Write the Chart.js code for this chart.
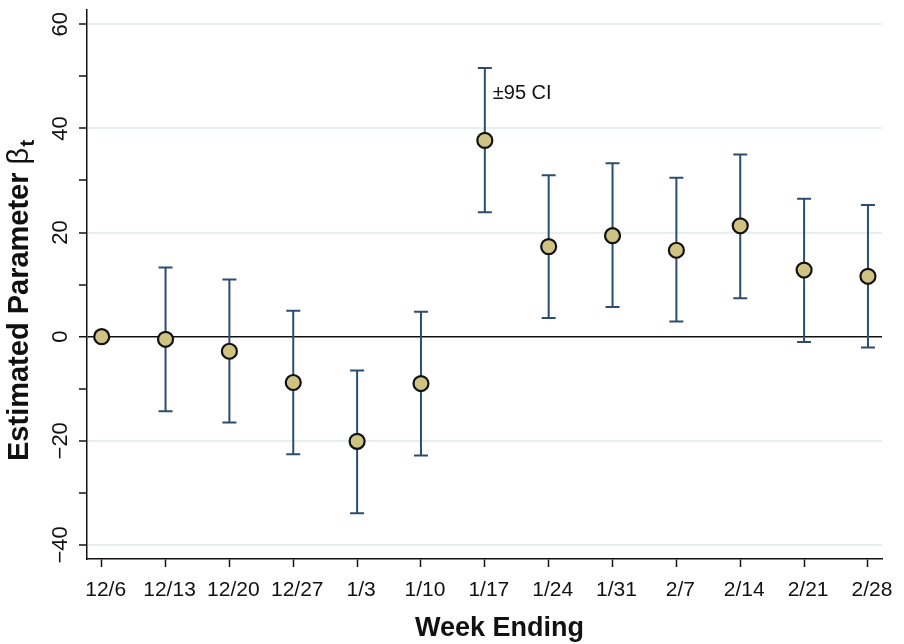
<!DOCTYPE html>
<html>
<head>
<meta charset="utf-8">
<script src="https://cdn.jsdelivr.net/npm/chart.js@4/dist/chart.umd.min.js"></script>
<style>
  html, body { margin: 0; padding: 0; background: #fff; }
  canvas { display: block; }
</style>
</head>
<body>
<canvas id="coefChart" width="904" height="644"></canvas>
<script>
// Data
const weeks = ['12/6', '12/13', '12/20', '12/27', '1/3', '1/10', '1/17', '1/24', '1/31', '2/7', '2/14', '2/21', '2/28'];
const beta = [0, -0.5, -2.8, -8.8, -20.1, -9.0, 37.7, 17.3, 19.4, 16.6, 21.3, 12.8, 11.6];
const ciLower = [null, -14.3, -16.5, -22.6, -33.9, -22.8, 23.9, 3.6, 5.7, 2.9, 7.4, -1.0, -2.1];
const ciUpper = [null, 13.3, 11.0, 5.0, -6.5, 4.8, 51.6, 31.0, 33.3, 30.5, 35.0, 26.5, 25.3];
const yTicks = [-40, -30, -20, -10, 0, 10, 20, 30, 40, 50, 60];
const yLabelTicks = [-40, -20, 0, 20, 40, 60];

const FONT = '"Liberation Sans", Arial, Helvetica, sans-serif';
const BAR_COLOR = '#2c4d6e';

// Error bars (drawn under the points)
const errorBars = {
  id: 'errorBars',
  beforeDatasetsDraw(chart) {
    const { ctx, scales: { x, y } } = chart;
    ctx.save();
    ctx.strokeStyle = BAR_COLOR;
    ctx.lineWidth = 2;
    ciLower.forEach((lo, i) => {
      if (lo === null) return;
      const px = x.getPixelForValue(i);
      const y1 = y.getPixelForValue(lo);
      const y2 = y.getPixelForValue(ciUpper[i]);
      ctx.beginPath();
      ctx.moveTo(px, y1); ctx.lineTo(px, y2);
      ctx.moveTo(px - 7, y1); ctx.lineTo(px + 7, y1);
      ctx.moveTo(px - 7, y2); ctx.lineTo(px + 7, y2);
      ctx.stroke();
    });
    ctx.restore();
  }
};

// Rotated y tick labels, axis titles and the CI note
const labels = {
  id: 'labels',
  afterDraw(chart) {
    const { ctx, chartArea, scales: { x, y } } = chart;
    ctx.save();
    ctx.fillStyle = '#111';

    // y tick labels, reading bottom to top
    ctx.font = `22px ${FONT}`;
    ctx.textAlign = 'center';
    ctx.textBaseline = 'alphabetic';
    yLabelTicks.forEach(v => {
      ctx.save();
      ctx.translate(67, y.getPixelForValue(v));
      ctx.rotate(-Math.PI / 2);
      ctx.fillText(v < 0 ? '\u2212' + Math.abs(v) : String(v), 0, 0);
      ctx.restore();
    });

    // y title with subscript t
    ctx.save();
    ctx.translate(28, 461);
    ctx.rotate(-Math.PI / 2);
    ctx.textAlign = 'left';
    ctx.font = `bold 29px ${FONT}`;
    const main = 'Estimated Parameter ';
    ctx.fillText(main, 0, 0);
    let off = ctx.measureText(main).width;
    ctx.font = `29px ${FONT}`;
    ctx.fillText('\u03B2', off, 0);
    off += ctx.measureText('\u03B2').width;
    ctx.font = `bold 21px ${FONT}`;
    ctx.fillText('t', off + 1, 6);
    ctx.restore();

    // x title
    ctx.font = `bold 27px ${FONT}`;
    ctx.textAlign = 'center';
    ctx.fillText('Week Ending', (chartArea.left + chartArea.right) / 2 + 15, 636);

    // CI note next to the 1/17 bar
    ctx.font = `20px ${FONT}`;
    ctx.textAlign = 'left';
    ctx.fillText('\u00B195 CI', x.getPixelForValue(6) + 8, y.getPixelForValue(47) + 7);
    ctx.restore();
  }
};

const ctx = document.getElementById('coefChart').getContext('2d');

new Chart(ctx, {
  type: 'scatter',
  data: {
    datasets: [{
      data: beta.map((v, i) => ({ x: i, y: v })),
      pointRadius: 7.5,
      pointHoverRadius: 7.5,
      pointBackgroundColor: '#cfc384',
      pointBorderColor: '#111',
      pointBorderWidth: 2.2
    }]
  },
  options: {
    responsive: false,
    devicePixelRatio: 1,
    animation: false,
    layout: { padding: { top: 5, right: 22, left: 0, bottom: 0 } },
    plugins: { legend: { display: false }, tooltip: { enabled: false } },
    scales: {
      x: {
        type: 'linear',
        min: -0.23,
        max: 12.22,
        afterBuildTicks: s => { s.ticks = weeks.map((_, i) => ({ value: i })); },
        afterFit: s => { s.height = 85; s.paddingLeft = 0; s.paddingRight = 0; },
        ticks: {
          callback: v => weeks[v],
          font: { family: FONT, size: 21 },
          color: '#111',
          padding: 11,
          labelOffset: 4,
          maxRotation: 0,
          autoSkip: false
        },
        grid: { drawOnChartArea: false, tickLength: 8, tickColor: '#111', tickWidth: 1.5 },
        border: { color: '#111', width: 1.5 }
      },
      y: {
        min: -42.7,
        max: 62.8,
        afterBuildTicks: s => { s.ticks = yTicks.map(v => ({ value: v })); },
        afterFit: s => { s.width = 87; s.paddingTop = 0; s.paddingBottom = 0; },
        ticks: { display: false },
        grid: {
          color: c => c.tick.value === 0 ? '#111' : (c.tick.value % 20 === 0 ? '#e8efef' : 'rgba(0,0,0,0)'),
          lineWidth: c => c.tick.value === 0 ? 1.5 : 2,
          tickLength: 8,
          tickColor: '#111',
          tickWidth: 1.5
        },
        border: { color: '#111', width: 1.5 }
      }
    }
  },
  plugins: [errorBars, labels]
});
</script>
</body>
</html>
